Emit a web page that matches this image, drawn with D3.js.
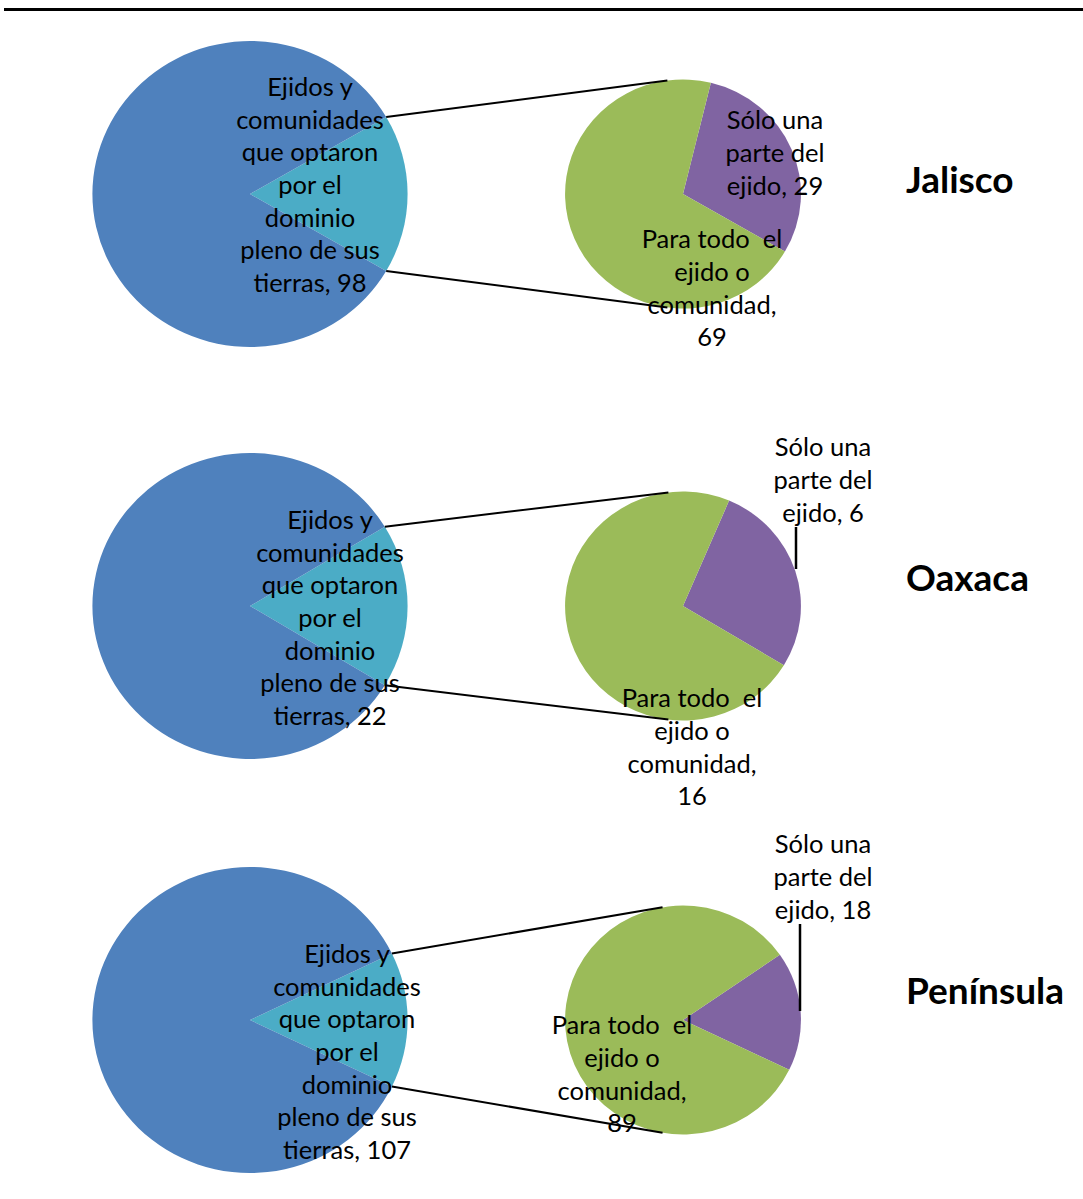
<!DOCTYPE html>
<html>
<head>
<meta charset="utf-8">
<script src="https://cdn.jsdelivr.net/npm/d3@7"></script>
<style>
  html, body { margin: 0; padding: 0; background: #ffffff; }
  svg { display: block; }
  text { font-family: Lato, "Open Sans", sans-serif; fill: #000; }
</style>
</head>
<body>
<svg id="chart" width="1083" height="1199"></svg>
<script>
// ---- data ----
const regions = ["Jalisco", "Oaxaca", "Península"];
const restoEjidos = [486, 105, 640];          // blue slice (unlabelled)
const dominioPleno = [98, 22, 107];           // teal slice
const soloUnaParte = [29, 6, 18];             // purple slice
const paraTodo = [69, 16, 89];                // green slice
const mainLabelLines = ["Ejidos y", "comunidades", "que optaron", "por el", "dominio", "pleno de sus", "tierras, "];
const soloLabelLines = ["Sólo una", "parte del", "ejido, "];
const todoLabelLines = ["Para todo  el", "ejido o", "comunidad,", ""];

// ---- layout (positions/styles only) ----
const W = 1083, H = 1199;
const sx = 1.03;                 // horizontal stretch of the original picture
const panelCY = [194, 606, 1020];
const mainCX = 250, mainR = 153;
const secCX = 683, secR = 114.5;
const lineH = 32.7;
const fontSize = 25.5;
const mainLabelOff = [[60, -9], [80, 12], [97, 32]];
const soloLabelOff = [[92, -41], [140, -126], [140, -143]];
const todoLabelOff = [[29, 94.5], [9, 141.5], [-61, 54.5]];
const soloLeader = [null, [113, -79, -37], [117, -96, -9]]; // dx, y1, y2 relative to sec center
const titleX = 906;
const titleBase = [193, 591, 1004];
const colors = { resto: "#4F81BD", dominio: "#4BACC6", todo: "#9BBB59", solo: "#8064A2" };

const svg = d3.select("#chart");

svg.append("line")
  .attr("x1", 4).attr("x2", W).attr("y1", 9.5).attr("y2", 9.5)
  .attr("stroke", "#000").attr("stroke-width", 3);

function multiline(g, lines, cx, cyMid) {
  const n = lines.length;
  const t = g.append("text")
    .attr("text-anchor", "middle")
    .attr("font-size", fontSize)
    .style("white-space", "pre");
  lines.forEach((ln, k) => {
    t.append("tspan")
      .attr("x", cx)
      .attr("y", cyMid + (k - (n - 1) / 2) * lineH)
      .attr("dy", "0.35em")
      .text(ln);
  });
}

const mcx = mainCX / sx, scx = secCX / sx;   // centers in stretched-local coordinates

regions.forEach((name, i) => {
  const cy = panelCY[i];
  const g = svg.append("g");
  const gp = g.append("g").attr("transform", `scale(${sx},1)`);

  // main pie
  const total = restoEjidos[i] + dominioPleno[i];
  const tealAngle = 2 * Math.PI * dominioPleno[i] / total;
  const half = tealAngle / 2;
  const mainStart = Math.PI / 2 - half;
  const mainPie = d3.pie().sort(null).value(d => d.v)
    .startAngle(mainStart).endAngle(mainStart + 2 * Math.PI);
  const mainData = mainPie([
    { k: "dominio", v: dominioPleno[i] },
    { k: "resto", v: restoEjidos[i] }
  ]);
  const arcMain = d3.arc().innerRadius(0).outerRadius(mainR);
  gp.append("g").attr("transform", `translate(${mcx},${cy})`)
    .selectAll("path").data(mainData).join("path")
    .attr("d", arcMain)
    .attr("fill", d => colors[d.data.k]);

  // secondary pie: purple slice ends at lower edge angle of teal slice
  const secTotal = soloUnaParte[i] + paraTodo[i];
  const purpleSpan = 2 * Math.PI * soloUnaParte[i] / secTotal;
  const secStart = Math.PI / 2 + half - purpleSpan;
  const secPie = d3.pie().sort(null).value(d => d.v)
    .startAngle(secStart).endAngle(secStart + 2 * Math.PI);
  const secData = secPie([
    { k: "solo", v: soloUnaParte[i] },
    { k: "todo", v: paraTodo[i] }
  ]);
  const arcSec = d3.arc().innerRadius(0).outerRadius(secR);
  gp.append("g").attr("transform", `translate(${scx},${cy})`)
    .selectAll("path").data(secData).join("path")
    .attr("d", arcSec)
    .attr("fill", d => colors[d.data.k]);

  // connector lines: from teal edges to tangent points on the secondary pie
  [-1, 1].forEach(sgn => {
    const a = Math.PI / 2 + sgn * half; // d3 angle (0 at 12 o'clock, clockwise)
    const px = mcx + mainR * Math.sin(a);
    const py = cy - mainR * Math.cos(a);
    const vx = px - scx, vy = py - cy;
    const d = Math.hypot(vx, vy);
    const base = Math.atan2(vy, vx);
    const off = Math.acos(secR / d);
    const ang2 = sgn < 0 ? base + off : base - off;
    const tx = scx + secR * Math.cos(ang2);
    const ty = cy + secR * Math.sin(ang2);
    gp.append("line")
      .attr("x1", px).attr("y1", py).attr("x2", tx).attr("y2", ty)
      .attr("stroke", "#000").attr("stroke-width", 2)
      .attr("vector-effect", "non-scaling-stroke");
  });

  // leader line for "Sólo una parte" label
  if (soloLeader[i]) {
    const [dx, y1, y2] = soloLeader[i];
    g.append("line")
      .attr("x1", secCX + dx).attr("x2", secCX + dx)
      .attr("y1", cy + y1).attr("y2", cy + y2)
      .attr("stroke", "#000").attr("stroke-width", 2.5);
  }

  // labels
  const mLines = mainLabelLines.slice();
  mLines[mLines.length - 1] = mLines[mLines.length - 1] + dominioPleno[i];
  multiline(g, mLines, mainCX + mainLabelOff[i][0], cy + mainLabelOff[i][1]);

  const sLines = soloLabelLines.slice();
  sLines[sLines.length - 1] = sLines[sLines.length - 1] + soloUnaParte[i];
  multiline(g, sLines, secCX + soloLabelOff[i][0], cy + soloLabelOff[i][1]);

  const tLines = todoLabelLines.slice();
  tLines[tLines.length - 1] = String(paraTodo[i]);
  multiline(g, tLines, secCX + todoLabelOff[i][0], cy + todoLabelOff[i][1]);

  // region title
  g.append("text")
    .attr("x", titleX).attr("y", titleBase[i])
    .attr("font-size", 37).attr("font-weight", 700)
    .text(name);
});
</script>
</body>
</html>
